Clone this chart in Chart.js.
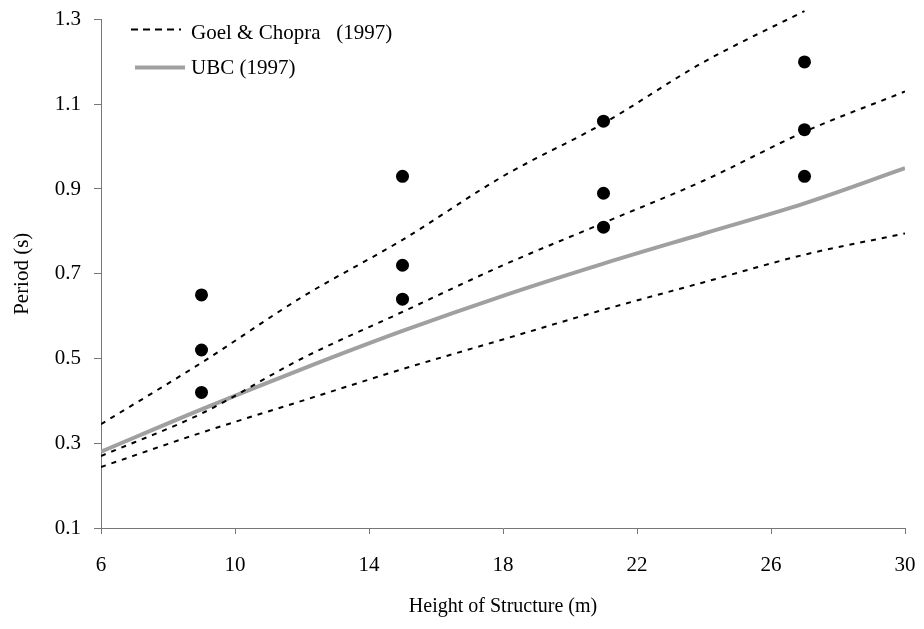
<!DOCTYPE html>
<html>
<head>
<meta charset="utf-8">
<script src="https://cdn.jsdelivr.net/npm/chart.js@4/dist/chart.umd.min.js"></script>
<style>
  html, body { margin: 0; padding: 0; background: #fff; }
  #periodChart { display: block; }
</style>
</head>
<body>
<canvas id="periodChart" width="924" height="629"></canvas>
<script>
// heights (m) where the curves are sampled
const curveHeights = [6, 9, 12, 15, 18, 21, 24, 27, 30];
const goelUpper = [0.345, 0.49, 0.645, 0.78, 0.93, 1.055, 1.20, 1.32];
const goelMid = [0.27, 0.37, 0.50, 0.61, 0.72, 0.82, 0.92, 1.035, 1.13];
const goelLower = [0.244, 0.325, 0.40, 0.475, 0.545, 0.615, 0.68, 0.745, 0.795];
const ubcPeriod = [0.28, 0.38, 0.475, 0.565, 0.648, 0.724, 0.795, 0.866, 0.949];

// measured periods
const measHeights = [9, 9, 9, 15, 15, 15, 21, 21, 21, 27, 27, 27];
const measPeriods = [0.65, 0.52, 0.42, 0.93, 0.72, 0.64, 1.06, 0.89, 0.81, 1.20, 1.04, 0.93];

const xTicks = [6, 10, 14, 18, 22, 26, 30];
const yTicks = [0.1, 0.3, 0.5, 0.7, 0.9, 1.1, 1.3];

const serif = 'Liberation Serif';
const axisGrey = '#777';
const ubcGrey = '#a0a0a0';

function toPoints(xs, ys) {
    return ys.map((y, i) => ({ x: xs[i], y: y }));
}

function goelLine(values) {
    return {
        label: 'Goel & Chopra  (1997)',
        data: toPoints(curveHeights, values),
        showLine: true,
        borderColor: '#000',
        borderWidth: 2,
        borderDash: [5, 6],
        pointRadius: 0,
        cubicInterpolationMode: 'monotone',
        clip: { left: 0, top: 10, right: 0, bottom: 0 }
    };
}

// legend drawn inside the plot, top left
const insideLegend = {
    id: 'insideLegend',
    afterDatasetsDraw(chart) {
        const c = chart.ctx;
        const a = chart.chartArea;
        const x0 = a.left + 30;
        c.save();
        c.lineCap = 'butt';

        c.strokeStyle = '#000';
        c.lineWidth = 2;
        c.setLineDash([7, 5]);
        c.beginPath();
        c.moveTo(x0, a.top + 10);
        c.lineTo(x0 + 50, a.top + 10);
        c.stroke();

        c.strokeStyle = ubcGrey;
        c.lineWidth = 4;
        c.setLineDash([]);
        c.beginPath();
        c.moveTo(x0 + 4, a.top + 48);
        c.lineTo(x0 + 54, a.top + 48);
        c.stroke();

        c.fillStyle = '#000';
        c.font = '21px "' + serif + '"';
        c.textBaseline = 'middle';
        c.textAlign = 'left';
        c.fillText('Goel & Chopra   (1997)', x0 + 60, a.top + 14);
        c.fillText('UBC (1997)', x0 + 60, a.top + 49);
        c.restore();
    }
};

const config = {
    type: 'scatter',
    data: {
        datasets: [
            goelLine(goelUpper),
            goelLine(goelMid),
            goelLine(goelLower),
            {
                label: 'UBC (1997)',
                data: toPoints(curveHeights, ubcPeriod),
                showLine: true,
                borderColor: ubcGrey,
                borderWidth: 4,
                pointRadius: 0,
                cubicInterpolationMode: 'monotone'
            },
            {
                label: 'Measured',
                data: toPoints(measHeights, measPeriods),
                showLine: false,
                pointRadius: 6.5,
                pointBackgroundColor: '#000',
                pointBorderColor: '#000',
                pointBorderWidth: 0
            }
        ]
    },
    options: {
        responsive: false,
        animation: false,
        layout: {
            padding: { top: 19.5, right: 19, bottom: 0, left: 0 }
        },
        plugins: {
            legend: { display: false },
            tooltip: { enabled: false }
        },
        scales: {
            x: {
                type: 'linear',
                min: 6,
                max: 30,
                afterBuildTicks: (scale) => { scale.ticks = xTicks.map(v => ({ value: v })); },
                afterFit: (scale) => {
                    scale.height = 101;
                    scale.paddingLeft = 0;
                    scale.paddingRight = 0;
                },
                border: { color: axisGrey, width: 1 },
                grid: { drawOnChartArea: false, drawTicks: true, tickLength: 6, color: axisGrey },
                ticks: {
                    color: '#000',
                    padding: 19,
                    maxRotation: 0,
                    font: { family: serif, size: 21 }
                },
                title: {
                    display: true,
                    text: 'Height of Structure (m)',
                    color: '#000',
                    padding: { top: 0, bottom: 10 },
                    font: { family: serif, size: 20 }
                }
            },
            y: {
                type: 'linear',
                min: 0.1,
                max: 1.3,
                afterBuildTicks: (scale) => { scale.ticks = yTicks.map(v => ({ value: v })); },
                afterFit: (scale) => {
                    scale.width = 101;
                    scale.paddingTop = 0;
                    scale.paddingBottom = 0;
                },
                border: { color: axisGrey, width: 1 },
                grid: { drawOnChartArea: false, drawTicks: true, tickLength: 7, color: axisGrey },
                ticks: {
                    color: '#000',
                    padding: 13,
                    font: { family: serif, size: 21 },
                    callback: (v) => v.toFixed(1)
                },
                title: {
                    display: true,
                    text: 'Period (s)',
                    color: '#000',
                    padding: { top: 10, bottom: 0 },
                    font: { family: serif, size: 21 }
                }
            }
        }
    },
    plugins: [insideLegend]
};

new Chart(document.getElementById('periodChart').getContext('2d'), config);
</script>
</body>
</html>
